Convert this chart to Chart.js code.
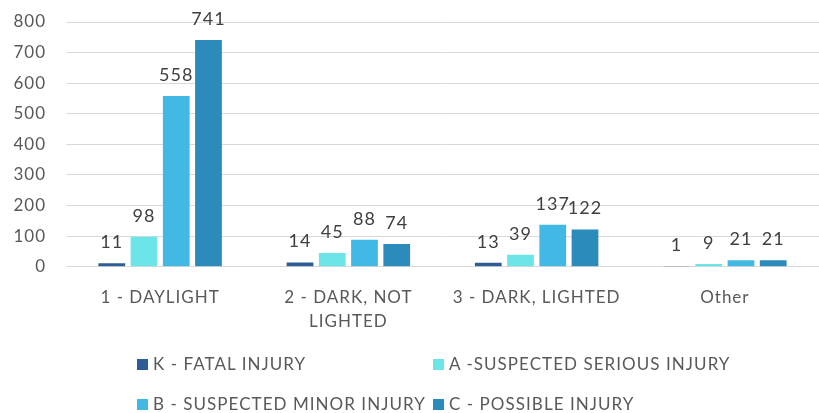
<!DOCTYPE html>
<html><head><meta charset="utf-8">
<script src="https://cdn.jsdelivr.net/npm/chart.js@4/dist/chart.umd.min.js"></script>
<style>
html,body{margin:0;padding:0;background:#fff;overflow:hidden;}
#wrap{position:relative;width:819px;height:413px;overflow:hidden;}
#c{position:absolute;left:0;top:0;}
.leg{position:absolute;font-family:Lato,"Open Sans",sans-serif;font-size:17px;letter-spacing:1.05px;color:#595959;white-space:nowrap;line-height:20px;}
.leg i{position:absolute;left:-16px;top:5px;width:11px;height:11px;}
</style></head>
<body><div id="wrap"><canvas id="c" width="819" height="413"></canvas><div id="legend"></div></div>
<script>
const categories = [["1 - DAYLIGHT"], ["2 - DARK, NOT", "LIGHTED"], ["3 - DARK, LIGHTED"], ["Other"]];
const seriesNames = ["K - FATAL INJURY", "A -SUSPECTED SERIOUS INJURY", "B - SUSPECTED MINOR INJURY", "C - POSSIBLE INJURY"];
const fatal = [11, 14, 13, 1];
const serious = [98, 45, 39, 9];
const minor = [558, 88, 137, 21];
const possible = [741, 74, 122, 21];
const colors = ["#2E5C97", "#6BE5E8", "#42B9E4", "#2B8BBA"];
const yTicks = [0, 100, 200, 300, 400, 500, 600, 700, 800];

const values = [fatal, serious, minor, possible];
const FONT = 'Lato, "Open Sans", sans-serif';

const spacing = {
  id: 'spacing',
  beforeLayout(chart) { chart.ctx.letterSpacing = '1px'; },
  beforeDraw(chart) { chart.ctx.letterSpacing = '1px'; }
};

const dataLabels = {
  id: 'dataLabels',
  afterDatasetsDraw(chart) {
    const ctx = chart.ctx;
    ctx.save();
    ctx.font = '18px ' + FONT;
    ctx.fillStyle = '#404040';
    ctx.textAlign = 'center';
    ctx.textBaseline = 'alphabetic';
    chart.data.datasets.forEach((ds, i) => {
      chart.getDatasetMeta(i).data.forEach((bar, j) => {
        ctx.fillText(String(ds.data[j]), bar.x, bar.y - 15);
      });
    });
    ctx.restore();
  }
};

new Chart(document.getElementById('c'), {
  type: 'bar',
  data: {
    labels: categories,
    datasets: seriesNames.map((n, i) => ({
      label: n, data: values[i], backgroundColor: colors[i],
      categoryPercentage: 0.685, barPercentage: 0.83
    }))
  },
  options: {
    responsive: false, animation: false,
    layout: { padding: { top: 22, right: -7, bottom: 61, left: 8 } },
    plugins: { legend: { display: false }, tooltip: { enabled: false } },
    scales: {
      x: {
        grid: { display: false, drawTicks: false },
        border: { display: true, color: '#d9d9d9', width: 1 },
        ticks: { color: '#595959', font: { family: FONT, size: 17, lineHeight: 1.45 }, padding: 18, maxRotation: 0 }
      },
      y: {
        min: 0, max: 800,
        afterBuildTicks: ax => { ax.ticks = yTicks.map(v => ({ value: v })); },
        afterFit: ax => { ax.width = 58; ax.paddingTop = 10; ax.paddingBottom = 10; },
        grid: { color: '#d9d9d9', lineWidth: 1, drawTicks: false },
        border: { display: false },
        ticks: { color: '#595959', font: { family: FONT, size: 17 }, padding: 20 }
      }
    }
  },
  plugins: [spacing, dataLabels]
});

const pos = [[153, 354], [449, 354], [153, 394], [449, 394]];
const lg = document.getElementById('legend');
seriesNames.forEach((n, i) => {
  const d = document.createElement('div');
  d.className = 'leg';
  d.style.left = pos[i][0] + 'px';
  d.style.top = pos[i][1] + 'px';
  d.innerHTML = '<i style="background:' + colors[i] + '"></i>' + n;
  lg.appendChild(d);
});
</script></body></html>
